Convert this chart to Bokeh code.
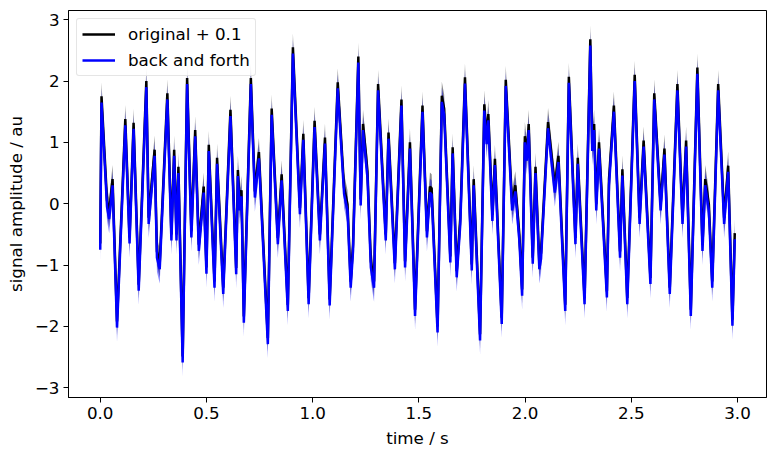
from bokeh.plotting import figure
from bokeh.models import FixedTicker, CustomJSTickFormatter, Range1d
from bokeh.embed import file_html
from bokeh.resources import INLINE

# time of each sample (s)
time_s = [0.000, 0.006, 0.032, 0.042, 0.058, 0.079, 0.118, 0.138, 0.157, 0.181,
          0.217, 0.228, 0.256, 0.267, 0.280, 0.316, 0.335, 0.348, 0.359, 0.368,
          0.388, 0.409, 0.429, 0.447, 0.464, 0.487, 0.500, 0.511, 0.538, 0.550,
          0.579, 0.613, 0.640, 0.648, 0.657, 0.665, 0.676, 0.709, 0.728, 0.747,
          0.789, 0.807, 0.836, 0.854, 0.883, 0.907, 0.940, 0.956, 0.981, 1.009,
          1.034, 1.058, 1.080, 1.118, 1.148, 1.164, 1.179, 1.190, 1.215, 1.226,
          1.237, 1.258, 1.274, 1.289, 1.308, 1.344, 1.357, 1.387, 1.418, 1.435,
          1.458, 1.482, 1.517, 1.538, 1.552, 1.560, 1.588, 1.608, 1.619, 1.648,
          1.659, 1.678, 1.695, 1.717, 1.749, 1.758, 1.788, 1.808, 1.819, 1.827,
          1.846, 1.858, 1.890, 1.909, 1.939, 1.954, 1.973, 1.986, 1.999, 2.008,
          2.017, 2.036, 2.049, 2.067, 2.075, 2.108, 2.140, 2.157, 2.189, 2.206,
          2.237, 2.248, 2.280, 2.307, 2.316, 2.325, 2.335, 2.348, 2.385, 2.395,
          2.418, 2.447, 2.458, 2.481, 2.516, 2.539, 2.558, 2.590, 2.608, 2.638,
          2.656, 2.681, 2.717, 2.741, 2.758, 2.780, 2.811, 2.835, 2.848, 2.865,
          2.881, 2.909, 2.937, 2.956, 2.976, 2.987]

# reconstructed ("back and forth") signal amplitude (au)
back_and_forth = [-0.75, 1.65, -0.05, -0.25, 0.30, -2.02, 1.28, -0.65, 1.22, -1.42,
                  1.90, -0.33, 0.78, -0.88, -1.07, 1.70, -0.60, 0.78, -0.60, 0.50,
                  -2.59, 1.95, -0.55, 1.10, -0.77, 0.18, -1.14, 0.86, -1.37, 0.65,
                  -1.47, 1.43, -1.15, 0.45, -0.11, 0.12, -1.94, 1.95, 0.10, 0.74,
                  -2.29, 1.45, -0.66, 0.38, -1.75, 2.45, -0.17, 1.04, -1.64, 1.25,
                  -0.60, 0.98, -1.66, 1.88, 0.16, -0.11, -1.37, -0.77, 2.30, -0.03,
                  1.20, 0.43, -1.04, -1.37, 1.85, -0.60, 1.06, -1.07, 1.60, -1.04,
                  0.90, -1.83, 1.50, -0.55, 0.18, 0.15, -2.10, 1.66, 1.45, -0.96,
                  0.82, -1.20, -0.33, 1.96, -1.09, 0.30, -2.23, 1.52, 0.97, 1.36,
                  -0.28, 0.63, -1.96, 1.92, -0.11, 0.20, -0.60, -1.50, 1.00, 0.70,
                  1.20, -0.98, 0.50, -1.07, -0.90, 1.23, 0.18, 0.68, -1.75, 1.97,
                  -0.66, 0.65, -1.64, 2.58, 0.86, 1.20, -0.11, 0.90, -1.53, 0.30,
                  1.50, -0.88, 0.46, -1.64, 2.00, -0.33, 0.93, -1.31, 1.70, -0.11,
                  0.80, -1.47, 1.85, -0.33, 0.93, -1.83, 2.12, -0.77, 0.30, -0.11,
                  -1.37, 1.85, -0.33, 0.52, -1.99, -0.58]

offset = 0.1      # "original + 0.1"
spread = 0.23     # half width of the shaded band

original_plus = [v + offset for v in back_and_forth]

x_ticks = [0.0, 0.5, 1.0, 1.5, 2.0, 2.5, 3.0]
y_ticks = [-3, -2, -1, 0, 1, 2, 3]

FONT = "DejaVu Sans"
FS = "16.7px"

p = figure(width=775, height=456, output_backend="svg", toolbar_location=None,
           x_range=Range1d(-0.1494, 3.1364), y_range=Range1d(-3.16, 3.15),
           min_border_left=68, min_border_right=9, min_border_top=10, min_border_bottom=59)
p.background_fill_color = "white"
p.border_fill_color = "white"
p.outline_line_color = "black"
p.outline_line_width = 1
p.xgrid.visible = False
p.ygrid.visible = False

# bands
p.varea(x=time_s, y1=[v - spread for v in original_plus], y2=[v + spread for v in original_plus],
        fill_color="black", fill_alpha=0.45)
p.varea(x=time_s, y1=[v - spread for v in back_and_forth], y2=[v + spread for v in back_and_forth],
        fill_color="blue", fill_alpha=0.45)
# lines
p.line(time_s, original_plus, line_color="black", line_width=2.5, legend_label="original + 0.1")
p.line(time_s, back_and_forth, line_color="blue", line_width=2.5, legend_label="back and forth")

for ax in (p.xaxis[0], p.yaxis[0]):
    ax.axis_line_color = "black"
    ax.major_tick_line_color = "black"
    ax.major_tick_out = 5
    ax.major_tick_in = 0
    ax.minor_tick_line_color = None
    ax.major_label_text_font = FONT
    ax.major_label_text_font_size = FS
    ax.major_label_text_color = "black"
    ax.axis_label_text_font = FONT
    ax.axis_label_text_font_size = FS
    ax.axis_label_text_font_style = "normal"
    ax.axis_label_text_color = "black"
    ax.major_label_standoff = 4

p.xaxis[0].ticker = FixedTicker(ticks=x_ticks)
p.yaxis[0].ticker = FixedTicker(ticks=y_ticks)
p.xaxis[0].formatter = CustomJSTickFormatter(code="return tick.toFixed(1);")
p.yaxis[0].formatter = CustomJSTickFormatter(
    code="return tick < 0 ? '\u2212' + (-tick).toFixed(0) : tick.toFixed(0);")
p.xaxis[0].axis_label = "time / s"
p.yaxis[0].axis_label = "signal amplitude / au"
p.xaxis[0].axis_label_standoff = 6
p.yaxis[0].axis_label_standoff = 6

lg = p.legend[0]
lg.location = "top_left"
lg.margin = 8
lg.padding = 5
lg.spacing = 6
lg.glyph_width = 33
lg.glyph_height = 20
lg.label_height = 20
lg.label_standoff = 13
lg.label_text_font = FONT
lg.label_text_font_size = FS
lg.label_text_color = "black"
lg.border_line_color = "#cccccc"
lg.border_line_width = 1
lg.background_fill_alpha = 0.8
try:
    lg.border_radius = 3
except Exception:
    pass

open("out.html", "w").write(file_html(p, INLINE))
